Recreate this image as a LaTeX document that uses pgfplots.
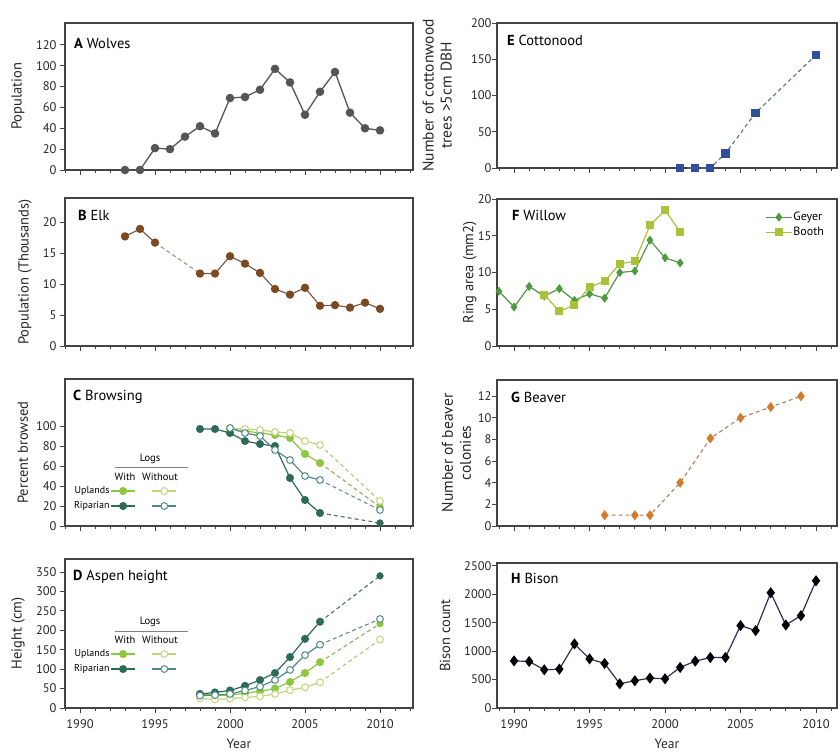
\documentclass[border=0pt]{standalone}
\usepackage{fontspec}
\setmainfont{PT Sans}
\usepackage{pgfplots}
\pgfplotsset{compat=1.18}
\definecolor{wolfc}{HTML}{555555}
\definecolor{elkc}{HTML}{7B4A1F}
\definecolor{elkl}{HTML}{6E5542}
\definecolor{upw}{HTML}{8DC63F}
\definecolor{ripw}{HTML}{2D6A58}
\definecolor{upo}{HTML}{C2D47A}
\definecolor{ripo}{HTML}{4F8B86}
\definecolor{cotc}{HTML}{2F4F9B}
\definecolor{cotl}{HTML}{5A6A9E}
\definecolor{geyc}{HTML}{4E9A3E}
\definecolor{booc}{HTML}{A8C23A}
\definecolor{beac}{HTML}{D27B2C}
\definecolor{beal}{HTML}{A88060}
\definecolor{bisl}{HTML}{2B2E58}
\definecolor{axc}{HTML}{444444}
\pgfplotsset{
  panel/.style={
    scale only axis,
    axis line style={draw=axc, line width=1.1pt},
    tick align=outside,
    tick pos=left,
    major tick length=5pt, minor tick length=3pt,
    every tick/.style={draw=axc, line width=0.8pt},
    xtick={1990,1995,2000,2005,2010},
    minor xtick={1989,...,2012},
    tick label style={font=\fontsize{12.5}{14}\selectfont, text=black!85},
    xticklabel style={yshift=-3pt},
    /pgf/number format/assume math mode=true,
    /pgf/number format/1000 sep={},
    label style={font=\fontsize{14.5}{16}\selectfont, text=black!85},
    clip=false,
  },
  nox/.style={xticklabels={}},
  leftpanel/.style={panel, width=348pt, xmin=1989, xmax=2012.2},
  rightpanel/.style={panel, width=340pt, xmin=1988.87, xmax=2011.39,
    yticklabel style={xshift=3pt}},
  ylab/.style={ylabel style={at={(axis description cs:#1,0.5)}, anchor=center}},
  dsh/.style={dash pattern=on 4pt off 3pt, line width=1.1pt},
  logsleg/.style={
    legend style={at={(axis description cs:0.023,#1)}, anchor=north west, draw=none, fill=none,
      inner sep=0pt, outer sep=0pt, font=\fontsize{10}{12}\selectfont,
      nodes={inner sep=1pt, text height=7pt, text depth=2pt}, row sep=4pt, column sep=0pt},
    legend columns=2, legend cell align=right, legend plot pos=right,
    legend image code/.code={\draw[mark repeat=2,mark phase=2,##1] plot coordinates {(0pt,0pt) (12pt,0pt) (24pt,0pt)};},
  },
  yearlab/.style={xlabel={Year}, xlabel style={at={(axis description cs:0.5,0)}, anchor=center, yshift=-36pt, font=\fontsize{13.5}{15}\selectfont}},
}
\begin{document}
\begin{tikzpicture}
\useasboundingbox (0,0) rectangle (840pt,752pt);
% ---------- A Wolves
\begin{axis}[leftpanel, nox, name=A, at={(65pt,582pt)}, anchor=south west, height=147pt,
  ymin=0, ymax=141, ytick={0,20,...,120}, ylabel={Population}, ylab=-0.135]
\addplot[wolfc, line width=1.3pt, mark=*, mark size=3.6pt, mark options={fill=wolfc, draw=wolfc}] coordinates {
(1993,0)(1994,0)(1995,21)(1996,20)(1997,32)(1998,42)(1999,35)(2000,69)(2001,70)(2002,77)
(2003,97)(2004,84)(2005,53)(2006,75)(2007,94)(2008,55)(2009,40)(2010,38)};
\end{axis}
% ---------- B Elk
\begin{axis}[leftpanel, nox, name=B, at={(65pt,406pt)}, anchor=south west, height=148pt,
  ymin=0, ymax=23.9, ytick={0,5,...,20}, ylabel={Population (Thousands)}, ylab=-0.115]
\addplot[elkl!70!white, dsh, line width=1pt, forget plot] coordinates {(1995,16.7)(1998,11.7)};
\addplot[elkl, line width=1.1pt, mark=*, mark size=3.6pt, mark options={fill=elkc, draw=elkc}] coordinates {
(1993,17.7)(1994,18.9)(1995,16.7)};
\addplot[elkl, line width=1.1pt, mark=*, mark size=3.6pt, mark options={fill=elkc, draw=elkc}] coordinates {
(1998,11.7)(1999,11.7)(2000,14.5)(2001,13.3)(2002,11.8)(2003,9.2)(2004,8.3)(2005,9.4)
(2006,6.5)(2007,6.6)(2008,6.2)(2009,7.0)(2010,6.0)};
\end{axis}
% ---------- C Browsing
\begin{axis}[leftpanel, nox, name=C, at={(65pt,226pt)}, anchor=south west, height=147pt,
  ymin=0, ymax=147, ytick={0,20,...,100}, ylabel={Percent browsed}, ylab=-0.121, logsleg=0.2755]
\addplot[upw!70!gray, dsh, forget plot] coordinates {(2006,63)(2010,19)};
\addplot[upo!80!gray, dsh, forget plot] coordinates {(2006,81)(2010,25)};
\addplot[ripw!70!gray, dsh, forget plot] coordinates {(2006,13)(2010,3)};
\addplot[ripo!70!gray, dsh, forget plot] coordinates {(2006,46)(2010,16)};
\addplot[upw, line width=1.2pt, mark=*, mark size=3.4pt, mark options={fill=upw, draw=upw}] coordinates {
(2000,97)(2001,95)(2002,93)(2003,91)(2004,88)(2005,72)(2006,63)};
\addlegendentry{Uplands}
\addplot[upo, line width=1.2pt, mark=*, mark size=3.4pt, mark options={fill=white, draw=upo, line width=1pt}] coordinates {
(2000,98)(2001,97)(2002,96)(2003,94)(2004,93)(2005,85)(2006,81)};
\addlegendentry{\hspace*{14pt}}
\addplot[ripw, line width=1.2pt, mark=*, mark size=3.4pt, mark options={fill=ripw, draw=ripw}] coordinates {
(1998,97)(1999,97)(2000,93)(2001,85)(2002,82)(2003,80)(2004,48)(2005,26)(2006,13)};
\addlegendentry{Riparian}
\addplot[ripo, line width=1.2pt, mark=*, mark size=3.4pt, mark options={fill=white, draw=ripo, line width=1pt}] coordinates {
(2000,98)(2001,93)(2002,90)(2003,76)(2004,66)(2005,50)(2006,46)};
\addlegendentry{\hspace*{14pt}}
\addplot[only marks, mark=*, mark size=3.4pt, mark options={fill=upw, draw=upw}, forget plot] coordinates {(2010,19)};
\addplot[only marks, mark=*, mark size=3.4pt, mark options={fill=white, draw=upo, line width=1pt}, forget plot] coordinates {(2010,25)};
\addplot[only marks, mark=*, mark size=3.4pt, mark options={fill=ripw, draw=ripw}, forget plot] coordinates {(2010,3)};
\addplot[only marks, mark=*, mark size=3.4pt, mark options={fill=white, draw=ripo, line width=1pt}, forget plot] coordinates {(2010,16)};
\end{axis}
% ---------- D Aspen height
\begin{axis}[leftpanel, name=D, at={(65pt,44pt)}, anchor=south west, height=149pt,
  ymin=0, ymax=383.4, ytick={0,50,...,350}, ylabel={Height (cm)}, ylab=-0.135, logsleg=0.399, yearlab]
\addplot[upw!70!gray, dsh, forget plot] coordinates {(2006,118)(2010,217)};
\addplot[upo!80!gray, dsh, forget plot] coordinates {(2006,66)(2010,176)};
\addplot[ripw!70!gray, dsh, forget plot] coordinates {(2006,222)(2010,340)};
\addplot[ripo!70!gray, dsh, forget plot] coordinates {(2006,163)(2010,229)};
\addplot[upw, line width=1.2pt, mark=*, mark size=3.4pt, mark options={fill=upw, draw=upw}] coordinates {
(1998,36)(1999,33)(2000,33)(2001,38)(2002,43)(2003,50)(2004,67)(2005,90)(2006,118)};
\addlegendentry{Uplands}
\addplot[upo, line width=1.2pt, mark=*, mark size=3.4pt, mark options={fill=white, draw=upo, line width=1pt}] coordinates {
(1998,25)(1999,22)(2000,24)(2001,27)(2002,30)(2003,36)(2004,46)(2005,53)(2006,66)};
\addlegendentry{\hspace*{14pt}}
\addplot[ripw, line width=1.2pt, mark=*, mark size=3.4pt, mark options={fill=ripw, draw=ripw}] coordinates {
(1998,36)(1999,40)(2000,45)(2001,57)(2002,72)(2003,90)(2004,131)(2005,178)(2006,222)};
\addlegendentry{Riparian}
\addplot[ripo, line width=1.2pt, mark=*, mark size=3.4pt, mark options={fill=white, draw=ripo, line width=1pt}] coordinates {
(1998,32)(1999,33)(2000,36)(2001,45)(2002,55)(2003,72)(2004,98)(2005,136)(2006,163)};
\addlegendentry{\hspace*{14pt}}
\addplot[only marks, mark=*, mark size=3.4pt, mark options={fill=upw, draw=upw}, forget plot] coordinates {(2010,217)};
\addplot[only marks, mark=*, mark size=3.4pt, mark options={fill=white, draw=upo, line width=1pt}, forget plot] coordinates {(2010,176)};
\addplot[only marks, mark=*, mark size=3.4pt, mark options={fill=ripw, draw=ripw}, forget plot] coordinates {(2010,340)};
\addplot[only marks, mark=*, mark size=3.4pt, mark options={fill=white, draw=ripo, line width=1pt}, forget plot] coordinates {(2010,229)};
\end{axis}
% ---------- E Cottonwood
\begin{axis}[rightpanel, nox, name=E, at={(497pt,584pt)}, anchor=south west, height=145pt,
  ymin=0, ymax=200, ytick={0,50,...,200}, ylabel={Number of cottonwood\\trees >5cm DBH},
  ylabel style={align=center, font=\fontsize{15.5}{18}\selectfont}, ylab=-0.176]
\addplot[cotl, dsh, mark=square*, mark size=3.6pt, mark options={solid, fill=cotc, draw=cotc}] coordinates {
(2001,0)(2002,0)(2003,0)(2004,20)(2006,76)(2010,156)};
\end{axis}
% ---------- F Willow
\begin{axis}[rightpanel, nox, name=F, at={(497pt,406pt)}, anchor=south west, height=147pt,
  ymin=0, ymax=20, ytick={0,5,...,20}, ylabel={Ring area (mm2)}, ylab=-0.08,
  legend style={at={(axis description cs:0.974,0.932)}, anchor=north east, draw=none, fill=none,
    font=\fontsize{12}{14}\selectfont, row sep=3pt, nodes={inner sep=1pt}},
  legend cell align=left,
  legend image code/.code={\draw[mark repeat=2,mark phase=2,#1] plot coordinates {(0pt,0pt) (13pt,0pt) (26pt,0pt)};}]
\addplot[geyc!85!gray, line width=1.2pt, mark=diamond*, mark size=3.6pt, mark options={fill=geyc, draw=geyc}] coordinates {
(1989,7.45)(1990,5.3)(1991,8.1)(1992,6.8)(1993,7.8)(1994,6.2)(1995,7.1)(1996,6.5)(1997,10.0)
(1998,10.2)(1999,14.4)(2000,12.0)(2001,11.3)};
\addlegendentry{Geyer}
\addplot[booc, line width=1.2pt, mark=square*, mark size=3.4pt, mark options={fill=booc, draw=booc}] coordinates {
(1992,7.0)(1993,4.7)(1994,5.6)(1995,8.0)(1996,8.8)(1997,11.2)(1998,11.5)(1999,16.4)(2000,18.5)(2001,15.5)};
\addlegendentry{Booth}
\end{axis}
% ---------- G Beaver
\begin{axis}[rightpanel, nox, name=G, at={(497pt,226pt)}, anchor=south west, height=146pt,
  ymin=0, ymax=13.5, ytick={0,2,...,12}, ylabel={Number of beaver\\colonies},
  ylabel style={align=center, font=\fontsize{15.5}{18}\selectfont}, ylab=-0.119]
\addplot[beal, dsh, mark=diamond*, mark size=4.2pt, mark options={solid, fill=beac, draw=beac}] coordinates {
(1996,1)(1998,1)(1999,1)(2001,4)(2003,8.1)(2005,10)(2007,11)(2009,12)};
\end{axis}
% ---------- H Bison
\begin{axis}[rightpanel, name=H, at={(497pt,44pt)}, anchor=south west, height=145pt,
  ymin=0, ymax=2550, ytick={0,500,...,2500}, ylabel={Bison count}, ylab=-0.153, yearlab]
\addplot[bisl, line width=1.2pt, mark=diamond*, mark size=4.6pt, mark options={fill=black, draw=black}] coordinates {
(1990,829)(1991,818)(1992,672)(1993,683)(1994,1127)(1995,864)(1996,783)(1997,426)(1998,479)
(1999,526)(2000,514)(2001,713)(2002,824)(2003,888)(2004,888)(2005,1449)(2006,1361)(2007,2027)
(2008,1460)(2009,1624)(2010,2237)};
\end{axis}
% ---------- titles
\tikzset{ttl/.style={anchor=west, font=\fontsize{14.5}{16}\selectfont, inner sep=0pt}}
\node[ttl] at ([xshift=9pt,yshift=-20pt]A.north west) {\textbf{A} Wolves};
\node[ttl] at ([xshift=13pt,yshift=-17pt]B.north west) {\textbf{B} Elk};
\node[ttl] at ([xshift=8pt,yshift=-18pt]C.north west) {\textbf{C} Browsing};
\node[ttl] at ([xshift=8pt,yshift=-18pt]D.north west) {\textbf{D} Aspen height};
\node[ttl] at ([xshift=10pt,yshift=-17pt]E.north west) {\textbf{E} Cottonood};
\node[ttl] at ([xshift=15pt,yshift=-16pt]F.north west) {\textbf{F} Willow};
\node[ttl] at ([xshift=14pt,yshift=-17pt]G.north west) {\textbf{G} Beaver};
\node[ttl] at ([xshift=14pt,yshift=-15pt]H.north west) {\textbf{H} Bison};
% ---------- Logs headers
\tikzset{lg/.style={font=\fontsize{10.5}{12}\selectfont, inner sep=0pt}}
\node[lg] at ([xshift=85pt,yshift=67pt]C.south west) {Logs};
\draw[gray, line width=0.6pt] ([xshift=50pt,yshift=59pt]C.south west) -- ([xshift=123pt,yshift=59pt]C.south west);
\node[lg] at ([xshift=60pt,yshift=49pt]C.south west) {With};
\node[lg] at ([xshift=95pt,yshift=49pt]C.south west) {Without};
\node[lg] at ([xshift=85pt,yshift=86pt]D.south west) {Logs};
\draw[gray, line width=0.6pt] ([xshift=50pt,yshift=77pt]D.south west) -- ([xshift=123pt,yshift=77pt]D.south west);
\node[lg] at ([xshift=60pt,yshift=68pt]D.south west) {With};
\node[lg] at ([xshift=95pt,yshift=68pt]D.south west) {Without};
\end{tikzpicture}
\end{document}
